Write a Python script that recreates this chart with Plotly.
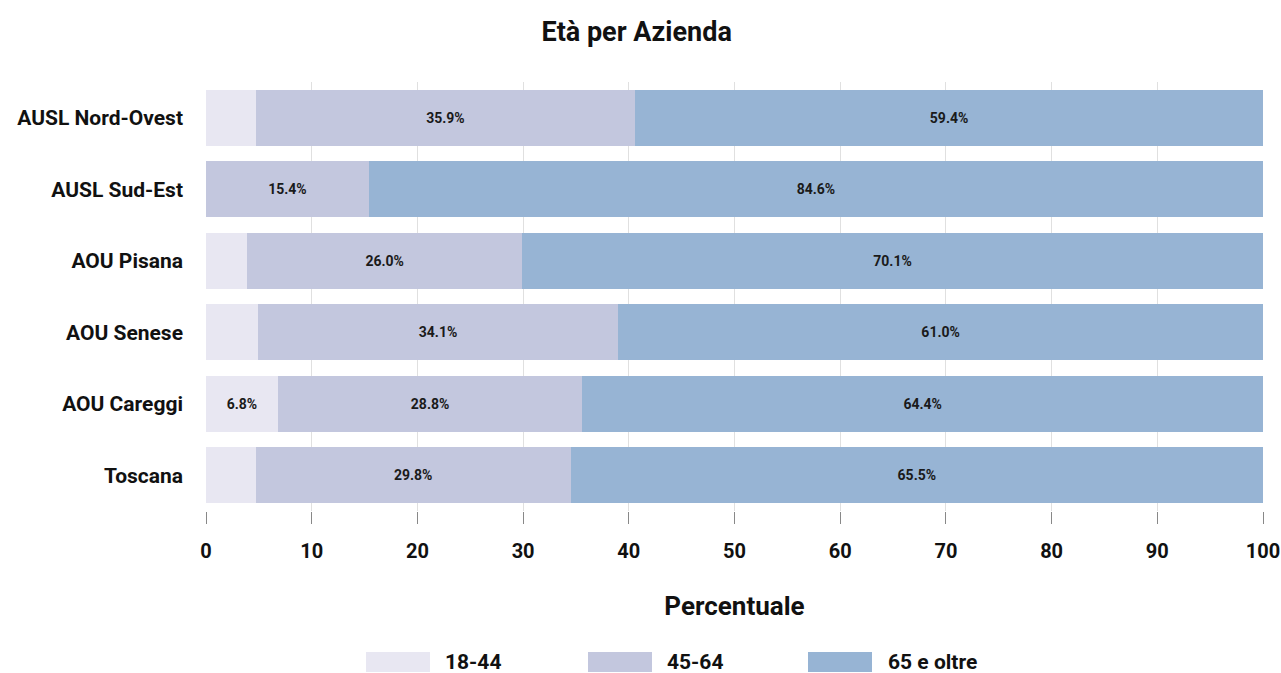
import plotly.graph_objects as go

AZIENDE = ["AUSL Nord-Ovest", "AUSL Sud-Est", "AOU Pisana", "AOU Senese", "AOU Careggi", "Toscana"]
ETA_18_44 = [4.7, 0.0, 3.9, 4.9, 6.8, 4.7]
ETA_45_64 = [35.9, 15.4, 26.0, 34.1, 28.8, 29.8]
ETA_65_OLTRE = [59.4, 84.6, 70.1, 61.0, 64.4, 65.5]

SERIES = [
    ("18-44", ETA_18_44, "#e8e7f2"),
    ("45-64", ETA_45_64, "#c3c7de"),
    ("65 e oltre", ETA_65_OLTRE, "#97b4d4"),
]

FONT = "Roboto, 'Noto Sans', sans-serif"
TEXT_MIN = 5.5  # segments narrower than this get no label
W, H = 1281, 673


def label_texts(values):
    return [f"{v:.1f}%" if v >= TEXT_MIN else "" for v in values]


fig = go.Figure()
for name, values, color in SERIES:
    fig.add_trace(
        go.Bar(
            y=AZIENDE,
            x=values,
            name=name,
            orientation="h",
            marker={"color": color, "line": {"width": 0}},
            text=label_texts(values),
            textposition="inside",
            insidetextanchor="middle",
            textangle=0,
            constraintext="none",
            textfont={"family": FONT, "size": 14, "color": "#1a1a1a", "weight": "bold"},
            showlegend=False,
        )
    )

# manual legend (wide swatches like the original), positions in pixels
legend_items = [(366, 430, 443), (588, 652, 665), (808, 872, 886)]
PL, PR, PT, PB = 206, 1263, 82, 511


def px_x(x):
    return (x - PL) / (PR - PL)


def px_y(y):
    return (PB - y) / (PB - PT)


for (x0, x1, tx), (name, _, color) in zip(legend_items, SERIES):
    fig.add_shape(
        type="rect", xref="paper", yref="paper",
        x0=px_x(x0), x1=px_x(x1), y0=px_y(672), y1=px_y(652),
        fillcolor=color, line={"width": 0},
    )
    fig.add_annotation(
        xref="paper", yref="paper",
        x=px_x(tx), y=px_y(662),
        text=name, showarrow=False, xanchor="left", yanchor="middle",
        font={"family": FONT, "size": 21, "color": "#111", "weight": "bold"},
    )

fig.update_layout(
    width=W,
    height=H,
    barmode="stack",
    bargap=0.22,
    plot_bgcolor="white",
    paper_bgcolor="white",
    margin={"l": PL, "r": W - PR, "t": PT, "b": H - PB},
    font={"family": FONT, "color": "#111"},
    title={
        "text": "<b>Età per Azienda</b>",
        "x": 0.497,
        "xanchor": "center",
        "y": 1 - 32 / H,
        "yanchor": "middle",
        "font": {"family": FONT, "size": 27, "color": "#111"},
    },
    xaxis={
        "range": [0, 100],
        "dtick": 10,
        "automargin": False,
        "showgrid": True,
        "gridcolor": "#e0e0e0",
        "gridwidth": 1,
        "zeroline": False,
        "ticks": "outside",
        "ticklen": 12,
        "tickcolor": "#888",
        "ticklabelstandoff": 10,
        "tickfont": {"family": FONT, "size": 20, "color": "#111", "weight": "bold"},
        "title": {
            "text": "<b>Percentuale</b>",
            "font": {"family": FONT, "size": 26, "color": "#111"},
            "standoff": 34,
        },
        "fixedrange": True,
    },
    yaxis={
        "categoryorder": "array",
        "categoryarray": AZIENDE[::-1],
        "automargin": False,
        "showgrid": False,
        "ticks": "",
        "ticklabelstandoff": 22,
        "tickfont": {"family": FONT, "size": 21, "color": "#111", "weight": "bold"},
        "fixedrange": True,
    },
)

# the page's default body margin would shift the fixed-size figure by 8px
fig.write_html(
    "out.html",
    config={"displayModeBar": False},
    post_script="document.body.style.margin='0';document.body.style.overflow='hidden';",
)
